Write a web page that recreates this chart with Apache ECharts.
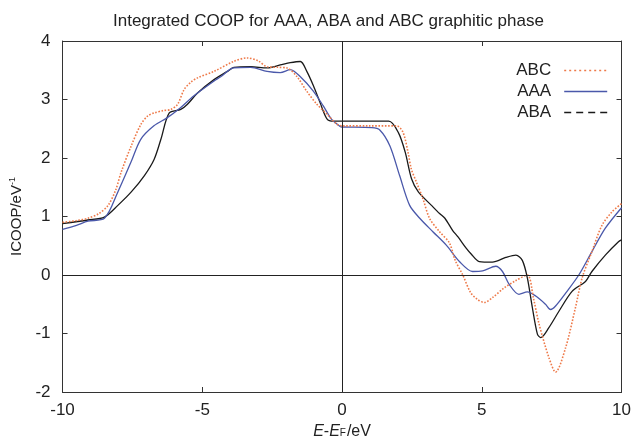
<!DOCTYPE html>
<html>
<head>
<meta charset="utf-8">
<script src="https://cdn.jsdelivr.net/npm/echarts@6/dist/echarts.min.js"></script>
<style>html,body{margin:0;padding:0;background:#fff}#c{width:634px;height:445px}</style>
</head>
<body>
<div id="c"></div>
<script>
// ---- data ----
const titleText = 'Integrated COOP for AAA, ABA and ABC graphitic phase';
const seriesNames = ['ABC', 'AAA', 'ABA'];
const xTicks = [-10, -5, 0, 5, 10];
const yTicks = [-2, -1, 0, 1, 2, 3, 4];

const abcX = [-10, -9.5, -9.09, -8.7, -8.37, -8.1, -7.9, -7.54, -7.19, -6.95, -6.72, -6.4, -6.12, -5.88, -5.65, -5.4, -5.17, -4.58, -3.88, -3.39, -3.0, -2.68, -2.3, -1.97, -1.61, -1.26, -0.9, -0.54, -0.19, 0, 1.0, 1.95, 2.18, 2.36, 2.48, 2.66, 2.89, 3.13, 3.49, 3.84, 4.05, 4.32, 4.6, 4.85, 5.09, 5.4, 5.8, 6.2, 6.63, 6.85, 7.05, 7.4, 7.64, 8.0, 8.35, 8.59, 8.94, 9.3, 9.66, 10];
const abcY = [0.9, 0.93, 0.97, 1.05, 1.19, 1.45, 1.76, 2.21, 2.58, 2.72, 2.77, 2.81, 2.83, 2.92, 3.17, 3.3, 3.37, 3.48, 3.65, 3.71, 3.66, 3.56, 3.55, 3.54, 3.39, 3.14, 2.92, 2.75, 2.58, 2.55, 2.55, 2.55, 2.44, 2.10, 1.81, 1.59, 1.31, 0.97, 0.74, 0.55, 0.25, 0.0, -0.3, -0.42, -0.47, -0.38, -0.22, -0.1, 0.0, -0.4, -0.84, -1.41, -1.66, -1.24, -0.56, -0.05, 0.40, 0.85, 1.08, 1.22];

const aaaX = [-10, -9.5, -9.09, -8.5, -8.02, -7.55, -7.2, -6.73, -6.25, -5.78, -5.31, -4.6, -4.34, -3.88, -3.27, -2.68, -2.21, -1.85, -1.49, -1.02, -0.67, -0.37, -0.07, 0, 1.07, 1.35, 1.71, 2.06, 2.42, 2.78, 3.25, 3.73, 4.2, 4.67, 5.03, 5.5, 5.74, 5.98, 6.33, 6.63, 6.93, 7.28, 7.46, 7.64, 8.0, 8.47, 8.94, 9.42, 10];
const aaaY = [0.78, 0.85, 0.92, 0.97, 1.42, 1.93, 2.32, 2.55, 2.69, 2.86, 3.06, 3.31, 3.39, 3.54, 3.55, 3.48, 3.46, 3.51, 3.39, 3.14, 2.89, 2.66, 2.54, 2.53, 2.52, 2.48, 2.21, 1.70, 1.19, 0.97, 0.74, 0.51, 0.23, 0.06, 0.07, 0.15, 0.06, -0.16, -0.33, -0.29, -0.36, -0.50, -0.59, -0.53, -0.31, 0.0, 0.40, 0.80, 1.15];

const abaX = [-10, -9.09, -8.5, -8.02, -7.54, -7.07, -6.72, -6.48, -6.18, -5.77, -5.53, -5.17, -4.58, -4.1, -3.87, -3.27, -2.68, -2.21, -1.85, -1.49, -1.26, -1.02, -0.78, -0.54, -0.31, 0, 1.67, 2.02, 2.26, 2.49, 2.73, 3.2, 3.49, 3.68, 3.96, 4.15, 4.44, 4.62, 4.91, 5.38, 5.86, 6.22, 6.45, 6.63, 6.81, 6.99, 7.11, 7.4, 7.76, 8.23, 8.71, 8.94, 9.42, 9.89, 10];
const abaY = [0.88, 0.94, 0.99, 1.19, 1.42, 1.70, 1.98, 2.32, 2.77, 2.83, 2.92, 3.11, 3.34, 3.48, 3.55, 3.56, 3.54, 3.59, 3.63, 3.65, 3.48, 3.23, 2.94, 2.67, 2.63, 2.63, 2.63, 2.43, 2.10, 1.64, 1.42, 1.19, 1.05, 0.97, 0.76, 0.65, 0.46, 0.36, 0.23, 0.22, 0.30, 0.34, 0.25, -0.05, -0.56, -1.01, -1.07, -0.90, -0.62, -0.28, -0.11, 0.06, 0.34, 0.57, 0.60];

const colors = ['#ee7a4a', '#4a58aa', '#1a1a1a'];
const lineTypes = ['dotted', 'solid', 'solid'];
const legendTypes = [[2, 3], 'solid', [7, 5]];

function zip(xs, ys) { return xs.map((x, i) => [x, ys[i]]); }
const dataSets = [zip(abcX, abcY), zip(aaaX, aaaY), zip(abaX, abaY)];

const FONT = '"Liberation Sans", Arial, sans-serif';
const axisCol = '#333';

const baseX = {
  type: 'value', min: -10, max: 10, interval: 5,
  splitLine: { show: false },
  axisLine: { onZero: false, lineStyle: { color: axisCol, width: 1 } },
  axisTick: { inside: true, length: 5, lineStyle: { color: axisCol } }
};
const baseY = {
  type: 'value', min: -2, max: 4, interval: 1,
  splitLine: { show: false },
  axisLine: { onZero: false, lineStyle: { color: axisCol, width: 1 } },
  axisTick: { inside: true, length: 5, lineStyle: { color: axisCol } }
};

const chart = echarts.init(document.getElementById('c'));
const series = seriesNames.map((n, i) => ({
  name: n, type: 'line', data: dataSets[i], symbol: 'none', smooth: 0.3,
  xAxisIndex: 0, yAxisIndex: 0,
  lineStyle: { color: colors[i], width: i === 0 ? 1.6 : 1.3, type: lineTypes[i] },
  itemStyle: { color: colors[i] },
  z: 3 - i
}));
series[1].markLine = {
  silent: true, symbol: ['none', 'none'], label: { show: false },
  lineStyle: { color: '#222', width: 1, type: 'solid' },
  data: [{ xAxis: 0 }, { yAxis: 0 }]
};

chart.setOption({
  animation: false,
  backgroundColor: '#fff',
  title: {
    text: titleText, left: 108, top: 8,
    textStyle: { fontFamily: FONT, fontSize: 17, fontWeight: 'normal', color: '#222' }
  },
  grid: { left: 61, right: 12, top: 41, bottom: 50 },
  legend: {
    orient: 'vertical', right: 21, top: 57, align: 'right',
    itemWidth: 43, itemHeight: 14, itemGap: 4,
    textStyle: { fontFamily: FONT, fontSize: 17, color: '#222', padding: [0, 8, 0, 0] },
    data: seriesNames.map((n, i) => ({
      name: n,
      itemStyle: { opacity: 0 },
      lineStyle: { type: legendTypes[i], width: i === 0 ? 1.6 : 1.3, color: colors[i] }
    }))
  },
  xAxis: [
    Object.assign({}, baseX, {
      position: 'bottom',
      axisLabel: { fontFamily: FONT, fontSize: 17, color: '#222', margin: 10,
        formatter: v => xTicks.includes(v) ? String(v) : '' },
      name: '{i|E}{n|-}{i|E}{s|F}{n|/eV}', nameLocation: 'middle', nameGap: 32,
      nameTextStyle: { rich: {
        i: { fontFamily: FONT, fontSize: 16, fontStyle: 'italic', color: '#222' },
        n: { fontFamily: FONT, fontSize: 16, color: '#222' },
        s: { fontFamily: FONT, fontSize: 10, color: '#222', padding: [0, 1, -3, 0] }
      } }
    }),
    Object.assign({}, baseX, { position: 'top', axisLabel: { show: false } })
  ],
  yAxis: [
    Object.assign({}, baseY, {
      position: 'left',
      axisLabel: { fontFamily: FONT, fontSize: 17, color: '#222', margin: 12,
        formatter: v => yTicks.includes(v) ? String(v) : '' },
      name: '{a|ICOOP/eV}{b|-1}', nameLocation: 'middle', nameGap: 31, nameRotate: 90,
      nameTextStyle: { rich: {
        a: { fontFamily: FONT, fontSize: 15, color: '#222' },
        b: { fontFamily: FONT, fontSize: 9, color: '#222', padding: [0, 0, 9, 0] }
      } }
    }),
    Object.assign({}, baseY, { position: 'right', axisLabel: { show: false } })
  ],
  series: series
});
</script>
</body>
</html>
